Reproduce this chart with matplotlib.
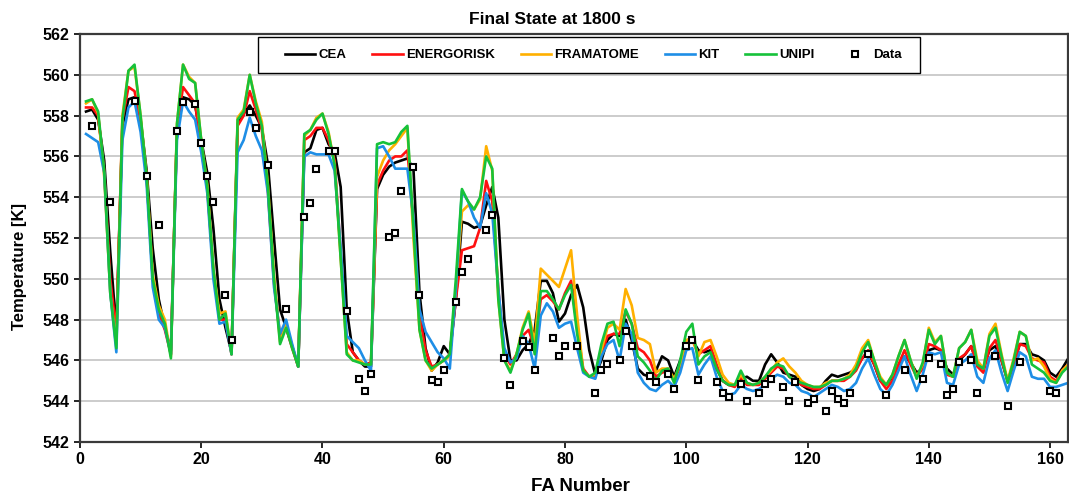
import matplotlib
matplotlib.use("Agg")
import matplotlib.pyplot as plt
from matplotlib.patches import Rectangle

plt.rcParams['font.family'] = ['Liberation Sans', 'DejaVu Sans']
plt.rcParams['font.weight'] = 'bold'

# Fuel assembly numbers 1..163
fa = list(range(1, 164))

cea = [
    558.2, 558.3, 557.8, 555.8, 551.3, 547.5, 557.5, 558.8, 558.9, 557.8,
    555.3, 551.5, 549.0, 547.6, 546.5, 557.3, 558.9, 558.8, 558.5, 556.8,
    555.2, 552.5, 549.0, 547.6, 546.4, 557.6, 558.1, 558.5, 558.0, 557.4,
    555.6, 552.0, 548.5, 547.6, 546.7, 545.7, 556.2, 556.4, 557.3, 557.4,
    556.6, 556.2, 554.5, 548.5, 546.4, 546.0, 545.7, 545.7, 554.4, 555.1,
    555.5, 555.7, 555.8, 555.9, 555.4, 549.3, 546.6, 545.5, 545.9, 546.7,
    546.3, 549.0, 552.8, 552.7, 552.5, 552.6, 553.6, 554.5, 553.0, 548.0,
    546.0, 546.0, 546.5, 546.8, 547.5, 549.9, 549.9, 549.3, 547.9, 548.3,
    549.2, 549.7, 548.6, 546.5, 545.3, 546.0, 547.0, 547.3, 547.2, 548.0,
    547.0, 545.6, 545.3, 545.2, 545.5, 546.2, 546.0, 545.2, 546.0, 546.8,
    547.0, 546.5, 546.4, 546.5, 545.6, 545.0, 544.8, 544.8, 545.1, 545.2,
    545.0, 545.0, 545.8, 546.3, 545.9, 545.4, 545.3, 545.2, 544.8, 544.6,
    544.5, 544.6, 545.0, 545.3, 545.2, 545.3, 545.4, 545.6, 546.1, 546.4,
    545.8, 545.0, 544.8, 545.2, 545.8, 546.2, 545.9, 545.4, 545.6, 546.5,
    546.6, 546.5, 545.6, 545.3, 546.0, 546.3, 546.7, 545.8, 545.6, 546.5,
    546.7, 546.0, 545.0, 545.8, 546.8, 546.8, 546.3, 546.2, 546.0, 545.4,
    545.2, 545.6, 546.1,
]

energorisk = [
    558.4, 558.4, 558.0, 555.3, 550.0, 547.4, 557.8, 559.4, 559.2, 557.7,
    555.0, 550.0, 548.3, 547.5, 546.3, 557.4, 559.4, 559.0, 558.6, 556.4,
    554.4, 550.4, 548.0, 548.0, 546.3, 557.5, 558.0, 559.2, 558.3, 557.3,
    554.3, 549.8, 547.2, 547.6, 546.6, 545.7, 556.8, 557.0, 557.4, 557.4,
    556.8, 555.8, 551.3, 546.8, 546.4, 546.0, 545.8, 545.9, 554.6, 555.3,
    555.8, 556.0, 556.0, 556.3, 552.8, 548.2, 546.5, 545.7, 545.8, 546.0,
    546.3, 549.0, 551.4, 551.5, 551.6, 552.5, 554.8, 553.8, 549.5, 546.3,
    545.8, 546.3, 547.2, 547.5, 546.6, 549.0, 549.2, 548.9, 548.5, 549.3,
    549.9, 547.6, 545.6, 545.2, 545.2, 546.3, 547.2, 547.3, 547.3, 548.4,
    547.8, 546.6, 546.4, 546.0, 545.2, 545.4, 545.5, 545.0, 545.7, 546.8,
    547.0, 546.3, 546.5, 546.7, 545.8, 545.0, 544.8, 544.7, 545.2, 544.8,
    544.8, 544.8, 545.1, 545.4, 545.7, 545.6, 545.2, 545.0, 544.8, 544.7,
    544.6, 544.6, 544.8, 545.0, 545.0, 545.0, 545.2, 545.5, 546.1, 546.5,
    545.8, 545.0, 544.6, 545.0, 545.8, 546.5, 545.8, 545.2, 545.6, 546.8,
    546.7, 546.5, 545.3, 545.2, 546.1, 546.3, 546.7, 545.7, 545.4, 546.6,
    547.0, 546.0, 545.0, 545.8, 546.8, 546.7, 546.1, 546.0, 545.9, 545.2,
    545.0, 545.5, 545.8,
]

framatome = [
    558.6, 558.8, 558.1, 555.0, 549.3, 546.8, 558.0, 560.2, 560.4, 558.0,
    555.0, 550.2, 548.7, 548.0, 546.2, 557.6, 560.5, 559.9, 559.6, 556.8,
    554.6, 550.5, 548.3, 548.4, 546.3, 557.9, 558.3, 560.0, 558.7, 557.7,
    554.6, 550.2, 546.9, 547.8, 546.7, 545.7, 557.0, 557.3, 557.9, 558.1,
    557.2, 555.6, 551.0, 546.4, 546.0, 546.0, 545.8, 545.8, 555.0, 555.8,
    556.3, 556.6, 557.0, 557.4, 552.0, 547.5, 546.0, 545.5, 545.8, 546.0,
    546.2, 549.5, 553.3, 553.6, 553.4, 553.9, 556.5, 555.3, 549.0, 546.0,
    545.5, 546.3, 547.6, 548.4, 546.8, 550.5, 550.2, 549.9, 549.6, 550.5,
    551.4, 548.2, 545.5, 545.2, 545.3, 546.5, 547.6, 547.8, 547.5, 549.5,
    548.7, 547.1, 547.0, 546.8, 545.4, 545.6, 545.6, 545.1, 545.8, 547.0,
    547.1, 546.2, 546.9, 547.0, 546.2, 545.3, 544.9, 544.8, 545.3, 544.9,
    544.8, 544.9, 545.2, 545.5, 545.9, 546.1, 545.7, 545.4, 545.0, 544.8,
    544.7, 544.7, 544.9, 545.0, 545.0, 545.1, 545.3, 545.8, 546.6, 547.0,
    546.0, 545.2, 544.8, 545.3, 546.2, 547.0, 546.0, 545.2, 545.8, 547.6,
    546.9, 547.2, 545.4, 545.2, 546.6, 546.9, 547.5, 546.0, 545.6, 547.3,
    547.8, 546.3, 545.0, 546.1, 547.4, 547.2, 546.0, 546.1, 545.7, 545.1,
    544.9, 545.5, 545.8,
]

kit = [
    557.1, 556.9, 556.7, 555.2, 549.3, 546.4, 556.8, 558.4, 558.7, 557.2,
    554.6, 549.6, 548.0, 547.6, 546.3, 556.8, 558.7, 558.2, 557.8, 556.2,
    554.2, 550.0, 547.8, 547.9, 546.3, 556.2, 556.8, 557.9, 557.0, 556.3,
    554.2, 549.6, 547.3, 548.0, 546.8, 545.7, 556.0, 556.2, 556.1, 556.1,
    556.1, 555.3, 551.5, 547.2, 546.9, 546.6, 546.0, 545.5, 556.4, 556.5,
    556.0, 555.4, 555.4, 555.4, 553.0, 548.5, 547.4, 546.9, 546.4, 546.1,
    545.6, 549.5, 554.3, 553.8, 553.0, 552.5, 554.2, 553.2, 549.5, 546.6,
    545.9, 546.1, 547.2, 546.8, 545.6, 548.2, 548.8, 548.4, 547.6, 547.8,
    547.9, 546.6, 545.4, 545.2, 545.1, 546.2, 546.8, 547.0, 546.0, 547.8,
    547.3, 545.4, 544.9, 544.6, 544.5, 544.8, 545.0, 544.7, 545.4, 546.5,
    546.6, 545.3, 545.8, 546.2, 545.2, 544.5, 544.3, 544.4, 544.8, 544.6,
    544.5, 544.6, 544.8, 545.1, 545.3, 545.2, 544.9, 544.8, 544.5, 544.4,
    544.2, 544.4, 544.6, 544.8, 544.7, 544.5, 544.6, 544.9, 545.6, 546.1,
    545.3, 544.6, 544.3, 544.8, 545.5, 546.2, 545.3, 544.5, 545.3, 546.4,
    546.3, 546.4, 544.9, 544.8, 545.8, 546.0, 546.3, 545.2, 544.9, 546.1,
    546.5, 545.4, 544.5, 545.5, 546.4, 546.2, 545.2, 545.1, 545.1, 544.7,
    544.7, 544.8, 544.9,
]

unipi = [
    558.7, 558.8, 558.2, 555.3, 549.3, 546.6, 557.8, 560.2, 560.5, 558.0,
    555.0, 550.0, 548.5, 547.8, 546.1, 557.6, 560.5, 559.8, 559.6, 556.8,
    554.5, 550.5, 548.0, 548.3, 546.3, 557.8, 558.2, 560.0, 558.6, 557.5,
    554.5, 550.0, 546.8, 547.6, 546.6, 545.7, 557.1, 557.3, 557.8, 558.1,
    557.1, 555.6, 551.0, 546.3, 546.0, 545.9, 545.8, 545.8, 556.6, 556.7,
    556.6, 556.7, 557.2, 557.5, 552.5, 547.5, 546.0, 545.6, 545.8, 546.0,
    546.3, 550.0, 554.4, 553.8, 553.4, 554.0, 556.0, 555.4, 549.0, 546.0,
    545.4, 546.3, 547.5, 548.3, 546.3, 549.4, 549.4, 549.0, 548.5, 549.2,
    549.7, 547.3, 545.5, 545.2, 545.4, 546.8, 547.8, 547.9, 546.7, 548.5,
    547.8, 546.2, 545.9, 545.5, 545.0, 545.5, 545.6, 544.9, 546.0, 547.4,
    547.8, 545.8, 546.2, 546.4, 545.6, 545.0, 544.8, 544.8, 545.5, 544.9,
    544.8, 544.9, 545.2, 545.6, 545.8, 545.7, 545.2, 545.0, 544.9, 544.8,
    544.7, 544.7, 544.8, 545.0, 545.0, 545.1, 545.2, 545.6, 546.4, 546.9,
    546.0, 545.1, 544.8, 545.3, 546.2, 547.0, 546.0, 545.1, 545.9, 547.5,
    546.8, 547.2, 545.4, 545.2, 546.6, 546.9, 547.5, 545.8, 545.6, 547.2,
    547.6, 546.2, 544.9, 546.0, 547.4, 547.2, 545.8, 545.6, 545.4, 545.0,
    544.9, 545.4, 545.7,
]

# Measured outlet temperatures
data_fa = [
    2, 5, 9, 11, 13, 16, 17, 19, 20, 21, 22, 24, 25, 28, 29, 31, 34, 37, 38,
    39, 41, 42, 44, 46, 47, 48, 51, 52, 53, 55, 56, 58, 59, 60, 62, 63, 64,
    67, 68, 70, 71, 73, 74, 75, 78, 79, 80, 82, 85, 86, 87, 89, 90, 91, 94,
    95, 97, 98, 100, 101, 102, 105, 106, 107, 109, 110, 112, 113, 114, 116,
    117, 118, 120, 121, 123, 124, 125, 126, 127, 130, 133, 136, 139, 140,
    142, 143, 144, 145, 147, 148, 151, 153, 155, 160, 161,
]
data_t = [
    557.5, 553.75, 558.7, 555.05, 552.66, 557.26, 558.69, 558.59, 556.66,
    555.05, 553.76, 549.22, 547.0, 558.2, 557.38, 555.58, 548.54, 553.04,
    553.74, 555.37, 556.25, 556.25, 548.44, 545.11, 544.5, 545.32, 552.05,
    552.25, 554.29, 555.48, 549.22, 545.04, 544.93, 545.54, 548.85, 550.35,
    550.96, 552.38, 553.15, 546.11, 544.8, 546.94, 546.65, 545.54, 547.12,
    546.22, 546.72, 546.72, 544.39, 545.52, 545.81, 546.0, 547.43, 546.72,
    545.22, 544.93, 545.34, 544.62, 546.72, 547.01, 545.05, 544.93, 544.39,
    544.21, 544.82, 544.03, 544.41, 544.82, 545.11, 544.68, 544.03, 544.93,
    543.92, 544.11, 543.5, 544.52, 544.11, 543.92, 544.41, 546.32, 544.31,
    545.54, 545.11, 546.11, 545.81, 544.31, 544.62, 545.93, 546.0, 544.39,
    546.22, 543.78, 545.93, 544.52, 544.39,
]

series = [
    ("CEA", cea, "#000000"),
    ("ENERGORISK", energorisk, "#ff1010"),
    ("FRAMATOME", framatome, "#ffb000"),
    ("KIT", kit, "#1e8ee6"),
    ("UNIPI", unipi, "#16c23a"),
]

fig = plt.figure(figsize=(10.69, 4.99), dpi=100)
ax = fig.add_axes([0.0748, 0.1142, 0.9245, 0.8176])

ax.set_axisbelow(True)
ax.yaxis.grid(True, color="#c8c8c8", linewidth=1.3)

for name, vals, col in series:
    ax.plot(fa, vals, color=col, linewidth=1.9, label=name, solid_joinstyle="round")

ax.plot(data_fa, data_t, linestyle="none", marker="s", markersize=4.6,
        markerfacecolor="white", markeredgecolor="black", markeredgewidth=1.5,
        label="Data")

ax.set_xlim(0, 163)
ax.set_ylim(542, 562)
ax.set_xticks(range(0, 161, 20))
ax.set_yticks(range(542, 563, 2))
ax.tick_params(axis="both", labelsize=11.5, length=4, width=1.2, colors="#000000",
               direction="out")
for lbl in ax.get_xticklabels() + ax.get_yticklabels():
    lbl.set_fontweight("bold")

for side in ["left", "bottom", "top", "right"]:
    ax.spines[side].set_color("#3a3a3a")
    ax.spines[side].set_linewidth(1.6)

ax.set_xlabel("FA Number", fontsize=13.5, fontweight="bold")
ax.xaxis.set_label_coords(0.506, -0.088)
ax.set_ylabel("Temperature [K]", fontsize=12, fontweight="bold")
ax.yaxis.set_label_coords(-0.0536, 0.43)
ax.set_title("Final State at 1800 s", fontsize=12.5, fontweight="bold", pad=7,
             x=0.478)

# Legend: one row inside a plain rectangular frame
legend_box = Rectangle((258 / 1069, 1 - 73 / 499), 662 / 1069, 36 / 499,
                       transform=fig.transFigure, facecolor="white",
                       edgecolor="black", linewidth=1.0, zorder=4)
fig.patches.append(legend_box)

handles, labels = ax.get_legend_handles_labels()
leg = fig.legend(handles, labels, loc="upper left",
                 bbox_to_anchor=(285 / 1069, 1 - 49 / 499),
                 bbox_transform=fig.transFigure,
                 borderaxespad=0, borderpad=0, ncol=6, frameon=False,
                 handlelength=2.3, handletextpad=0.25, columnspacing=1.95,
                 prop={"weight": "bold", "size": 9.5})
leg.set_zorder(5)

fig.savefig("out.png", dpi=100)
